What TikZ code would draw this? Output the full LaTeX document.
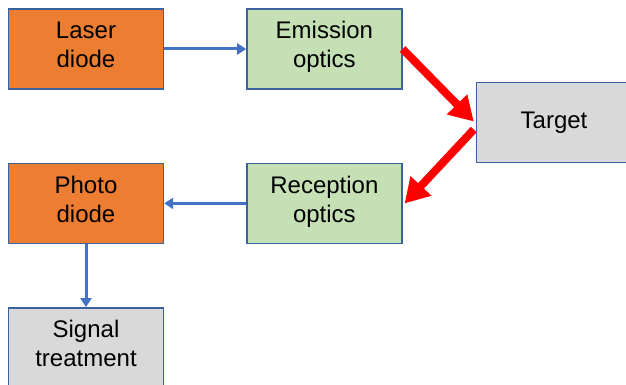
\documentclass[tikz,border=0pt]{standalone}
\usepackage{fontspec}
\setmainfont{Liberation Sans}
\usetikzlibrary{arrows.meta,positioning}

\definecolor{edgeblue}{HTML}{3A62A0}
\definecolor{flowblue}{HTML}{4472C4}
\definecolor{diodeorange}{HTML}{ED7D31}
\definecolor{opticsgreen}{HTML}{C5E0B4}
\definecolor{plaingrey}{HTML}{D9D9D9}

\begin{document}
\begin{tikzpicture}[
    box/.style={draw=edgeblue, line width=1.4pt, minimum width=155pt, minimum height=80pt,
      inner sep=0pt, align=center, text depth=9pt, font=\fontsize{24}{29}\selectfont},
    diode/.style={box, fill=diodeorange},
    optics/.style={box, fill=opticsgreen},
    plain/.style={box, fill=plaingrey},
    flow/.style={draw=flowblue, line width=3pt, -{Triangle[length=9pt,width=11pt]}},
    beam/.style={draw=red, line width=8pt, -{Triangle[length=24pt,width=27pt]}}]
  \clip (0,0) rectangle (626pt,-385pt);
  \node[diode] (laser) at (86pt,-49pt) {Laser\\diode};
  \node[optics] (emission) [right=82pt of laser] {Emission\\optics};
  \node[diode] (photo) [below=73pt of laser] {Photo\\diode};
  \node[optics] (reception) [right=82pt of photo] {Reception\\optics};
  \node[plain] (signal) [below=63pt of photo] {Signal\\treatment};
  \node[plain, text depth=5pt] (target) at (554pt,-122.5pt) {Target};
  \draw[flow] (laser) -- (emission);
  \draw[flow] (reception) -- (photo);
  \draw[flow] (photo) -- (signal);
  \draw[beam] (emission.east) -- ([xshift=-2pt,yshift=1pt]target.west);
  \draw[beam] ([xshift=-2pt,yshift=-7pt]target.west) -- ([xshift=2pt]reception.east);
\end{tikzpicture}
\end{document}
